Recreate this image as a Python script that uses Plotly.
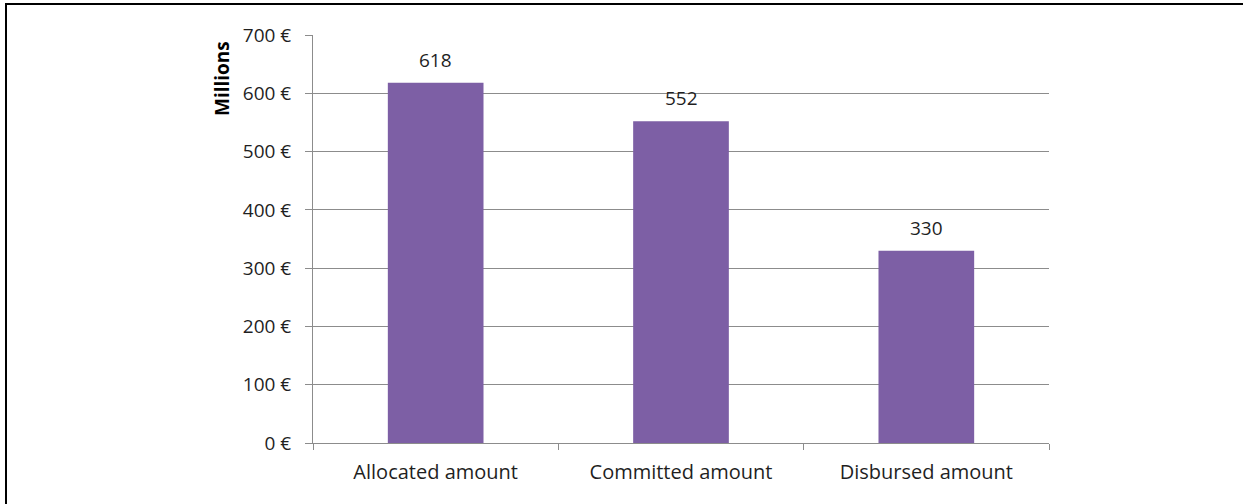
import plotly.graph_objects as go

categories = ["Allocated amount", "Committed amount", "Disbursed amount"]
amounts = [618, 552, 330]
tick_values = [0, 100, 200, 300, 400, 500, 600, 700]
tick_labels = ["0 €", "100 €", "200 €", "300 €", "400 €", "500 €", "600 €", "700 €"]

W, H = 1243, 504
L, R, T, B = 313, 194, 35, 61
pw, ph = W - L - R, H - T - B

FONT = "Open Sans"
GRID = "#8c8c8c"
TEXT = "#1f1f1f"

fig = go.Figure(
    go.Bar(
        x=categories,
        y=amounts,
        marker=dict(color="#7d5fa5", line=dict(width=0)),
        hoverinfo="skip",
    )
)

# value labels above each bar
for cat, val in zip(categories, amounts):
    fig.add_annotation(
        x=cat, y=val, text=str(val), showarrow=False,
        yanchor="bottom", yshift=8,
        font=dict(family=FONT, size=19, color=TEXT),
    )

# rotated axis caption at the top of the value axis
fig.add_annotation(
    xref="paper", yref="paper",
    x=(222 - L) / pw, y=(H - B - 79) / ph,
    text="<b>Millions</b>", textangle=-90, showarrow=False,
    xanchor="center", yanchor="middle",
    font=dict(family=FONT, size=19, color="#000000"),
)

# outer frame
fig.add_shape(
    type="rect", xref="paper", yref="paper",
    x0=(6 - L) / pw, x1=(1260 - L) / pw,
    y0=(H - B - 520) / ph, y1=(H - B - 4) / ph,
    line=dict(color="#000000", width=2), fillcolor="rgba(0,0,0,0)",
    layer="above",
)

fig.update_layout(
    width=W, height=H,
    margin=dict(l=L, r=R, t=T, b=B),
    paper_bgcolor="white", plot_bgcolor="white",
    bargap=0.61,
    showlegend=False,
    font=dict(family=FONT, size=20, color=TEXT),
)
fig.update_yaxes(
    range=[0, 700],
    tickvals=tick_values, ticktext=tick_labels,
    showgrid=True, gridcolor=GRID, gridwidth=1,
    showline=True, linecolor=GRID, linewidth=1,
    ticks="outside", ticklen=7, tickcolor=GRID,
    zeroline=False, ticklabelstandoff=10,
    tickfont=dict(family=FONT, size=19, color=TEXT),
)
fig.update_xaxes(
    showline=True, linecolor=GRID, linewidth=1,
    ticks="outside", ticklen=6, tickcolor=GRID,
    tickson="boundaries", ticklabelstandoff=11,
    tickfont=dict(family=FONT, size=20, color=TEXT),
)

fig.write_html("out.html")
